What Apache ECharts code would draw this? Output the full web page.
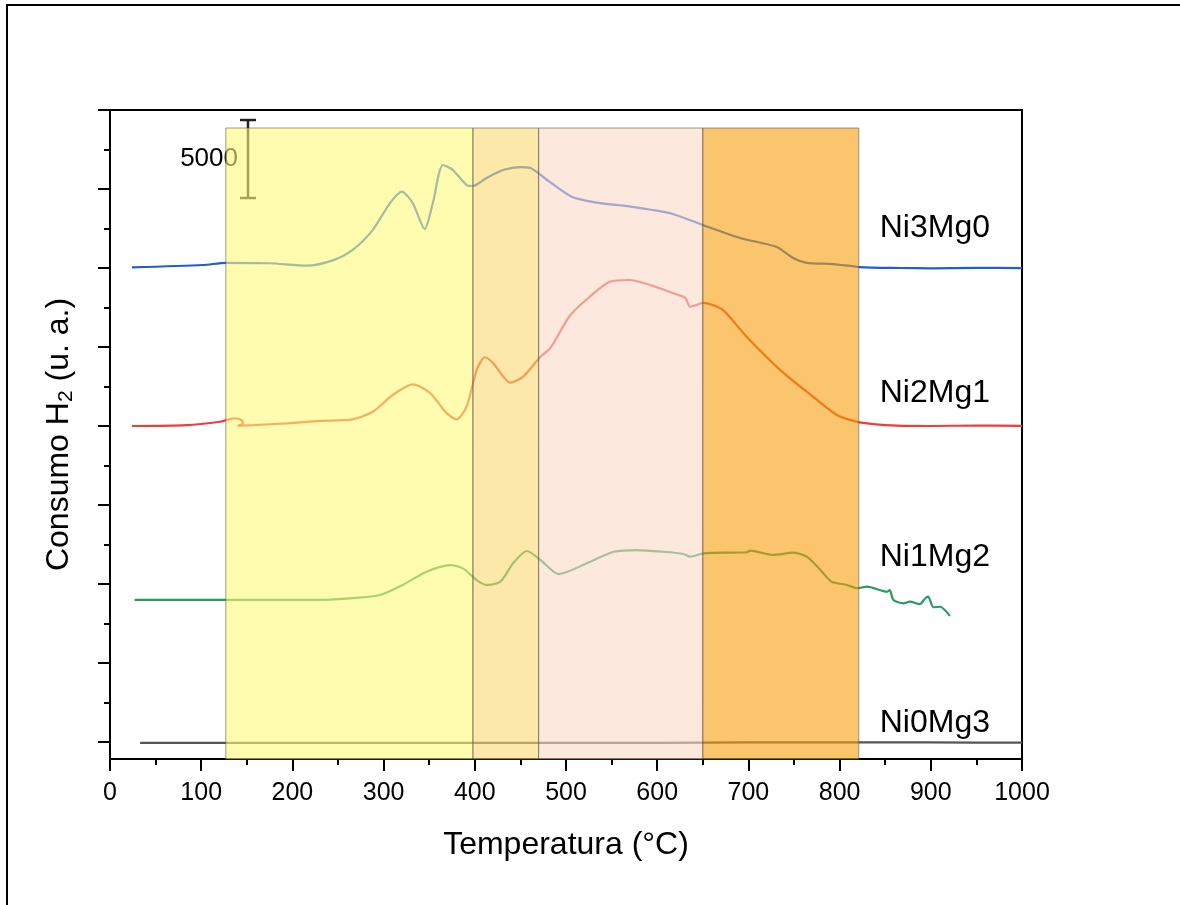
<!DOCTYPE html>
<html><head><meta charset="utf-8">
<script src="https://cdn.jsdelivr.net/npm/echarts@6/dist/echarts.min.js"></script>
<style>html,body{margin:0;padding:0;background:#fff}#c{width:1180px;height:905px}</style>
</head><body><div id="c"></div>
<script>
// ---- data (temperature °C, H2 consumption u.a., curves offset vertically) ----
const ni3mg0 = [[24,30040],[102,30190],[127,30330],[175,30300],[216,30150],[245,30500],[266,31140],[288,32400],[307,34110],[320,34830],[332,34110],[345,32470],[354,34110],[365,36520],[376,36200],[391,35250],[398,35190],[413,35700],[431,36200],[450,36390],[461,36330],[468,36080],[475,35760],[507,34490],[537,34110],[567,33920],[595,33670],[617,33420],[650,32720],[691,31900],[731,31330],[749,30630],[764,30320],[793,30250],[822,30060],[866,30000],[900,29980],[950,30010],[1000,29990]];
const ni2mg1 = [[24,20000],[84,20060],[121,20270],[128,20380],[137,20490],[144,20380],[146,20190],[140,20020],[157,20060],[194,20170],[230,20320],[266,20420],[288,20900],[310,21960],[332,22640],[351,22090],[369,20820],[380,20420],[391,21220],[402,23540],[411,24350],[420,23990],[439,22740],[453,23120],[472,24390],[483,24940],[504,26960],[526,28180],[548,29130],[570,29240],[592,28920],[617,28420],[631,28100],[636,27550],[643,27660],[650,27790],[671,27390],[698,25650],[735,23540],[771,21850],[797,20700],[822,20230],[863,20020],[900,20000],[950,20030],[1000,20010]];
const ni1mg2 = [[27,8990],[128,8990],[230,8990],[266,9100],[296,9300],[321,9940],[347,10780],[373,11200],[387,10990],[402,10250],[413,9940],[428,10150],[442,11310],[457,12090],[472,11520],[492,10630],[523,11310],[552,12040],[578,12150],[607,12040],[629,11900],[636,11730],[651,11940],[698,12010],[702,12110],[727,11840],[749,11980],[764,11730],[779,10890],[791,10150],[808,9940],[819,9730],[830,9830],[852,9510],[855,9620],[859,8990],[870,8780],[877,8880],[888,8730],[894,9100],[897,9200],[903,8530],[910,8560],[921,7980]];
const ni0mg3 = [[33,-60],[200,-60],[400,-55],[600,-50],[700,-30],[800,-20],[900,-30],[1000,-40]];
const curveNames = ['Ni3Mg0','Ni2Mg1','Ni1Mg2','Ni0Mg3'];
const curveLabelPos = [[844,32530],[844,22090],[844,11700],[844,1200]];
const regions = [[127,398],[398,470],[470,650],[650,821]];
const regionTopValue = 38860;
const scaleBar = [[151.3,34430,39366]];
const scaleBarLabel = '5000';
const xTicks = [0,100,200,300,400,500,600,700,800,900,1000];
const yMajorTicks = [0,5000,10000,15000,20000,25000,30000,35000,40000];
const yMinorTicks = [2500,7500,12500,17500,22500,27500,32500,37500];
const yMin = -1076, yMax = 40000;

// ---- styles ----
const FONT = '"Liberation Sans", Arial, sans-serif';
const lineColors = ['#1f5fd0','#e8403c','#2a9a5e','#555555'];
const regionColors = ['rgba(255,250,123,0.6)','rgba(250,218,112,0.6)','rgba(252,217,200,0.6)','rgba(247,158,12,0.6)'];

const chart = echarts.init(document.getElementById('c'), null, {renderer:'canvas'});
function lineSeries(name, data, color){
  return {name, type:'line', data, showSymbol:false, smooth:0.25, z:2,
    lineStyle:{color, width:2.2}, itemStyle:{color}};
}
const option = {
  animation:false,
  backgroundColor:'#fff',
  grid:{left:110,right:158,top:110,bottom:146,show:true,borderColor:'#000',borderWidth:2,backgroundColor:'transparent'},
  xAxis:{type:'value',min:0,max:1000,interval:100,
    axisLine:{onZero:false,lineStyle:{color:'#000',width:2}},
    axisTick:{length:12,lineStyle:{color:'#000',width:2}},
    minorTick:{show:true,splitNumber:2,length:6,lineStyle:{color:'#000',width:2}},
    splitLine:{show:false},
    axisLabel:{color:'#000',fontSize:25,margin:22,fontFamily:FONT,
      formatter:v=>xTicks.includes(v)?String(v):''},
    name:'Temperatura (°C)',nameLocation:'middle',nameGap:70,
    nameTextStyle:{fontSize:32,color:'#000',fontFamily:FONT}},
  yAxis:[
    {type:'value',min:yMin,max:yMax,position:'left',
     axisLine:{show:true,onZero:false,lineStyle:{color:'#000',width:2}},
     axisTick:{show:true,length:12,customValues:yMajorTicks,lineStyle:{color:'#000',width:2}},
     axisLabel:{show:false},splitLine:{show:false},
     name:'Consumo H{sub|2} (u. a.)',nameLocation:'middle',nameGap:33,
     nameTextStyle:{fontSize:32,color:'#000',fontFamily:FONT,
       rich:{sub:{fontSize:21,fontFamily:FONT,color:'#000',padding:[14,0,0,0]}}}},
    {type:'value',min:yMin,max:yMax,position:'left',
     axisLine:{show:false,onZero:false},
     axisTick:{show:true,length:6,customValues:yMinorTicks,lineStyle:{color:'#000',width:2}},
     axisLabel:{show:false},splitLine:{show:false}}
  ],
  graphic:[{type:'polyline',shape:{points:[[7,905],[7,5],[1180,5]]},style:{stroke:'#000',lineWidth:2,fill:null}}],
  series:[
    lineSeries('Ni3Mg0',ni3mg0,lineColors[0]),
    lineSeries('Ni2Mg1',ni2mg1,lineColors[1]),
    lineSeries('Ni1Mg2',ni1mg2,lineColors[2]),
    lineSeries('Ni0Mg3',ni0mg3,lineColors[3]),
    {type:'custom',z:2,silent:true,data:scaleBar,encode:{x:0,y:[1,2]},
     renderItem:(p,api)=>{
       const a=api.coord([api.value(0),api.value(1)]);
       const b=api.coord([api.value(0),api.value(2)]);
       const st={stroke:'#222',lineWidth:2.5};
       return {type:'group',children:[
         {type:'line',shape:{x1:a[0],y1:a[1],x2:b[0],y2:b[1]},style:st},
         {type:'line',shape:{x1:a[0]-8,y1:a[1],x2:a[0]+8,y2:a[1]},style:st},
         {type:'line',shape:{x1:b[0]-8,y1:b[1],x2:b[0]+8,y2:b[1]},style:st},
         {type:'text',x:a[0]-10,y:(a[1]+b[1])/2,style:{text:scaleBarLabel,fontSize:26,fontFamily:FONT,fill:'#000',align:'right',verticalAlign:'middle'}}
       ]};
     }},
    {type:'custom',z:10,silent:true,data:regions,encode:{x:[0,1]},
     renderItem:(p,api)=>{
       const p0=api.coord([api.value(0),regionTopValue]);
       const p1=api.coord([api.value(1),yMin]);
       return {type:'rect',shape:{x:p0[0],y:p0[1],width:p1[0]-p0[0],height:p1[1]-p0[1]},
         style:{fill:regionColors[p.dataIndex],stroke:'rgba(90,90,70,0.6)',lineWidth:1}};
     }},
    {type:'custom',z:12,silent:true,data:curveLabelPos,encode:{x:0,y:1},
     renderItem:(p,api)=>{
       const c=api.coord([api.value(0),api.value(1)]);
       return {type:'text',x:c[0],y:c[1],style:{text:curveNames[p.dataIndex],fontSize:32,fontFamily:FONT,fill:'#000',align:'left',verticalAlign:'middle'}};
     }}
  ]
};
chart.setOption(option);
</script></body></html>
